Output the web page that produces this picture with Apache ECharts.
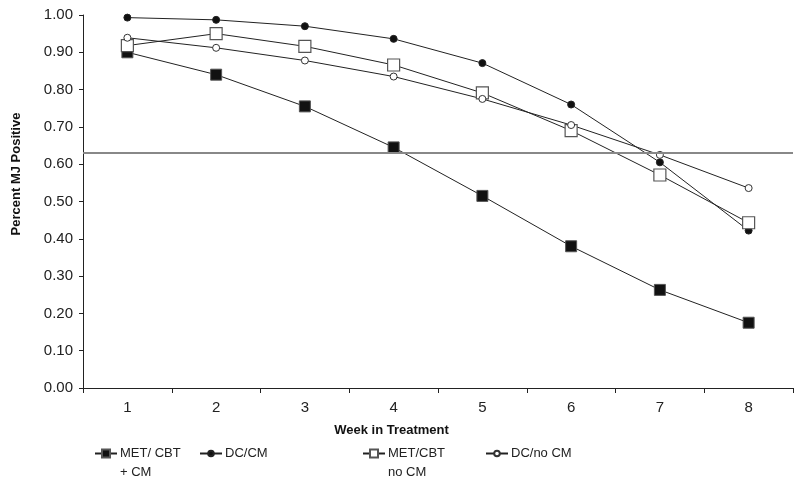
<!DOCTYPE html>
<html>
<head>
<meta charset="utf-8">
<title></title>
<script src="https://cdn.jsdelivr.net/npm/echarts@6/dist/echarts.min.js"></script>
<style>
  html, body { margin: 0; padding: 0; background: #fff; }
  #chart { width: 800px; height: 485px; }
</style>
</head>
<body>
<div id="chart"></div>
<script>
// weeks in treatment
const weeks = ['1', '2', '3', '4', '5', '6', '7', '8'];

// percent MJ positive per group
const metCbtCm   = [0.90, 0.84, 0.755, 0.645, 0.515, 0.38, 0.263, 0.175];
const dcCm       = [0.993, 0.987, 0.970, 0.936, 0.871, 0.760, 0.605, 0.422];
const metCbtNoCm = [0.918, 0.950, 0.916, 0.866, 0.791, 0.690, 0.571, 0.443];
const dcNoCm     = [0.939, 0.912, 0.878, 0.835, 0.775, 0.705, 0.625, 0.536];

// horizontal reference line
const refLevel = 0.625;

const names = ['MET/ CBT\n+ CM', 'DC/CM', 'MET/CBT\nno CM', 'DC/no CM'];

const font = 'Liberation Sans, Arial, Helvetica, sans-serif';

const chart = echarts.init(document.getElementById('chart'), null, {renderer: 'canvas'});

// one legend per item, the reference spaces them unevenly
// two-line names get an empty first line so the icon sits beside the first real line
function legendBox(name, left, size, twoLines) {
    return {
        data: [name],
        left: left,
        top: twoLines ? 425 : 444,
        padding: 0,
        itemWidth: 22,
        itemHeight: size,
        itemGap: 0,
        selectedMode: false,
        formatter: function (n) { return twoLines ? '\n' + n : n; },
        textStyle: {
            fontFamily: font,
            fontSize: 13,
            color: '#222',
            lineHeight: 19,
            padding: [0, 0, 0, -2]
        }
    };
}

const lineStyle = {color: '#222', width: 1};

option = {
    animation: false,
    backgroundColor: '#fff',
    grid: {left: 83, right: 7, top: 15, bottom: 97},
    legend: [
        legendBox(names[0], 94, 10, true),
        legendBox(names[1], 199, 7, false),
        legendBox(names[2], 362, 10, true),
        legendBox(names[3], 485, 7, false)
    ],
    xAxis: {
        type: 'category',
        data: weeks,
        boundaryGap: true,
        name: 'Week in Treatment',
        nameLocation: 'middle',
        nameGap: 36,
        nameTextStyle: {
            fontFamily: font, fontSize: 13, fontWeight: 'bold', color: '#111',
            padding: [0, 93, 0, 0]
        },
        axisLine: {lineStyle: {color: '#222', width: 1}},
        axisTick: {show: true, length: 5, lineStyle: {color: '#222'}},
        axisLabel: {fontFamily: font, fontSize: 15, color: '#222', margin: 12},
        splitLine: {show: false}
    },
    yAxis: {
        type: 'value',
        min: 0,
        max: 1,
        interval: 0.1,
        name: 'Percent MJ Positive',
        nameLocation: 'middle',
        nameGap: 60,
        nameTextStyle: {
            fontFamily: font, fontSize: 13, fontWeight: 'bold', color: '#111',
            padding: [0, 0, 0, 55]
        },
        axisLine: {show: true, lineStyle: {color: '#222', width: 1}},
        axisTick: {show: true, length: 4, lineStyle: {color: '#222'}},
        axisLabel: {
            fontFamily: font, fontSize: 15, color: '#222', margin: 10,
            formatter: function (v) { return v.toFixed(2); }
        },
        splitLine: {show: false}
    },
    series: [
        {
            name: names[0],
            type: 'line',
            data: metCbtCm,
            symbol: 'rect',
            symbolSize: 11,
            lineStyle: lineStyle,
            itemStyle: {color: '#111', borderColor: '#555', borderWidth: 1},
            markLine: {
                silent: true,
                symbol: 'none',
                label: {show: false},
                lineStyle: {color: '#888', width: 2, type: 'solid'},
                data: [{yAxis: refLevel}]
            }
        },
        {
            name: names[1],
            type: 'line',
            data: dcCm,
            symbol: 'circle',
            symbolSize: 7,
            lineStyle: lineStyle,
            itemStyle: {color: '#111', borderColor: '#222', borderWidth: 1}
        },
        {
            name: names[2],
            type: 'line',
            data: metCbtNoCm,
            symbol: 'rect',
            symbolSize: 12,
            lineStyle: lineStyle,
            itemStyle: {color: '#fff', borderColor: '#555', borderWidth: 1.2}
        },
        {
            name: names[3],
            type: 'line',
            data: dcNoCm,
            symbol: 'circle',
            symbolSize: 7,
            lineStyle: lineStyle,
            itemStyle: {color: '#fff', borderColor: '#333', borderWidth: 1}
        }
    ]
};

chart.setOption(option);
</script>
</body>
</html>
